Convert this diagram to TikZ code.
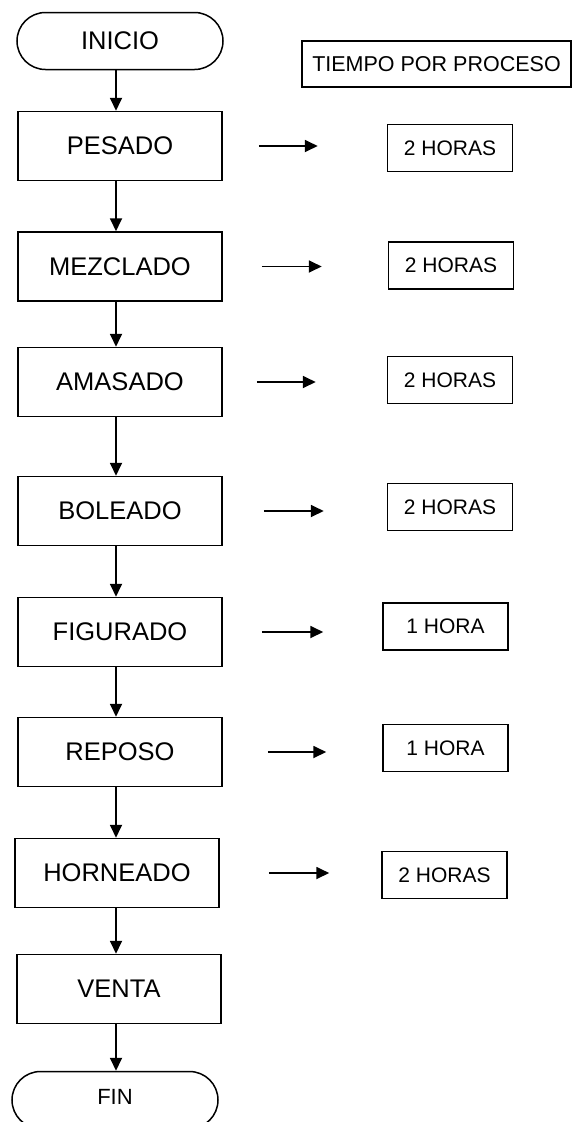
\documentclass[tikz,border=0pt]{standalone}
\usepackage{fontspec}
\setmainfont{Liberation Sans}
\usetikzlibrary{arrows.meta}
\usetikzlibrary{shapes.misc, positioning}

\begin{document}
\begin{tikzpicture}[x=1pt, y=-1pt,
		proceso/.style={draw, line width=1.5pt, inner sep=0pt, minimum width=204pt, minimum height=69pt, font=\fontsize{25.5}{30}\selectfont},
		terminal/.style={draw, line width=1.5pt, rounded rectangle, inner sep=0pt, minimum width=206pt, minimum height=57pt},
		tiempo/.style={draw, line width=1.5pt, inner sep=0pt, minimum width=125pt, minimum height=47pt, font=\fontsize{21}{25}\selectfont},
		flecha/.style={line width=1.8pt, -{Triangle[length=13pt,width=12pt]}}]
		\useasboundingbox (0,0) rectangle (574,1122);
		\coordinate (eje) at (116,0); % eje de las flechas verticales
		% columna del proceso
		\node[terminal, font=\fontsize{25.5}{30}\selectfont] (inicio) at (120,41) {INICIO};
		\node[proceso] (pesado) at (120,146) {PESADO};
		\node[proceso] (mezclado) at (120,266.5) {MEZCLADO};
		\node[proceso] (amasado) at (120,382) {AMASADO};
		\node[proceso] (boleado) at (120,511) {BOLEADO};
		\node[proceso] (figurado) at (120,632) {FIGURADO};
		\node[proceso] (reposo) at (120,752) {REPOSO};
		\node[proceso] (horneado) at (117,873) {HORNEADO};
		\node[proceso] (venta) at (119,989) {VENTA};
		\node[terminal, font=\fontsize{22}{26}\selectfont] (fin) at (115,1100) {\raisebox{6pt}{FIN}};
		% columna de tiempos
		\node[tiempo, minimum width=269pt, minimum height=46pt, font=\fontsize{21.5}{26}\selectfont] (titulo) at (436.5,64) {TIEMPO POR PROCESO};
		\node[tiempo] (t1) at (450,148) {2 HORAS};
		\node[tiempo] (t2) at (451,265.5) {2 HORAS};
		\node[tiempo] (t3) at (450,380) {2 HORAS};
		\node[tiempo] (t4) at (450,507) {2 HORAS};
		\node[tiempo] (t5) at (445.5,626.5) {1 HORA};
		\node[tiempo] (t6) at (445.5,748) {1 HORA};
		\node[tiempo] (t7) at (444.5,875) {2 HORAS};
		\foreach \a/\b in {inicio/pesado, pesado/mezclado, mezclado/amasado, amasado/boleado, boleado/figurado, figurado/reposo, reposo/horneado, horneado/venta, venta/fin}
			\draw[flecha] (\a.south -| eje) -- (\b.north -| eje);
		\foreach \a/\b/\s/\e in {pesado/t1/36/69, mezclado/t2/39/66, amasado/t3/34/71, boleado/t4/41/63, figurado/t5/39/59, reposo/t6/45/56, horneado/t7/49/52}
			\draw[flecha, shorten <=\s pt, shorten >=\e pt] (\a.east) -- (\a.east -| \b.west);
\end{tikzpicture}
\end{document}
